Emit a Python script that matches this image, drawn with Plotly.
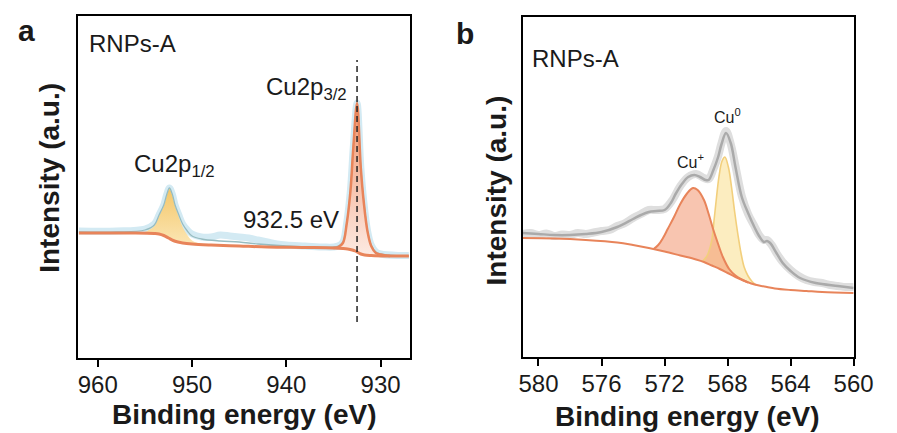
import plotly.graph_objects as go

# ---------------- Panel a : Cu 2p survey ----------------
be_a_raw = [962, 958, 955, 954, 953.5, 953, 952.7, 952.4, 952.1, 951.8, 951.4, 951, 950.5, 950,
            949, 948, 947, 946, 945, 944, 943, 942, 941, 940, 938, 936, 935, 934.5, 934, 933.6,
            933.2, 932.9, 932.5, 932.1, 931.8, 931.4, 931, 930.5, 930, 928, 927]
int_a_raw = [127, 127, 129, 134, 143, 153, 163, 170, 164, 153, 143, 134, 128, 124,
             121, 121, 123, 122, 121, 120, 118, 116, 114, 113, 112, 111, 111, 112, 116, 135,
             168, 211, 255, 191, 158, 128, 113, 106, 104, 102.5, 102.5]

be_a_fit = [962, 958, 955, 954, 953.5, 953, 952.7, 952.4, 952.1, 951.8, 951.4, 951, 950.5, 950,
            949, 947, 945, 943, 940, 937, 935, 934.5, 934, 933.6, 933.2, 932.9, 932.5, 932.1,
            931.8, 931.4, 931, 930.5, 930, 928, 927]
int_a_fit = [126, 126, 128, 133, 143, 153, 163, 170, 164, 153, 143, 134, 127, 122,
             119, 117, 116, 114, 112, 111, 111, 112, 116, 135, 168, 211, 255, 191,
             158, 128, 113, 106, 104, 102, 102]

be_a_bg = [962, 956, 954, 953.5, 953, 952.5, 952, 951.5, 951, 950, 948, 945, 942, 938, 935,
           934, 933.5, 933, 932.7, 932.4, 932.1, 931.7, 931, 929, 927]
int_a_bg = [125, 125, 124.5, 124, 122.5, 120, 117.5, 116, 115, 114, 113, 112, 111, 110.5, 110,
            109.5, 109, 108, 107, 105.5, 104, 103, 102.5, 102, 102]

be_a_p12 = [955.5, 955, 954, 953.5, 953, 952.7, 952.4, 952.1, 951.8, 951.4, 951, 950.5, 950, 949, 948]
int_a_p12 = [125, 126, 132, 142, 152, 162, 169, 163, 152, 141, 131, 123, 117.5, 114, 113]

be_a_p32 = [935, 934.5, 934, 933.6, 933.2, 932.9, 932.5, 932.1, 931.8, 931.4, 931, 930.5, 930, 929.5, 929]
int_a_p32 = [110, 111, 115, 134, 167, 210, 255, 190, 157, 127, 112, 105, 103.5, 102.5, 102]

dash_be = [932.5, 932.5]
dash_int = [36, 298]

ticks_a = [960, 950, 940, 930]

# ---------------- Panel b : Cu LMM Auger ----------------
be_b_raw = [581, 580.5, 580, 579.5, 579, 578.5, 578, 577.5, 577, 576.5, 576, 575.5, 575, 574.5,
            574, 573.5, 573, 572.5, 572, 571.5, 571, 570.5, 570, 569.5, 569.2, 568.9, 568.6,
            568.4, 568.1, 567.8, 567.5, 567.1, 566.7, 566.3, 566, 565.7, 565.5, 565.2, 564.9,
            564.5, 564, 563.5, 563, 562.5, 562, 561.5, 561, 560.5, 560]
int_b_raw = [123, 124, 122, 123.5, 121, 122.5, 122, 124, 123, 124.5, 126, 127, 131, 134,
             139, 143, 147, 147, 148, 157, 171, 180, 183, 179, 178, 188, 201,
             213, 226, 213, 191, 161, 143, 131, 122, 117, 117, 112, 104,
             95, 87, 81, 77, 75, 74, 72, 71, 70, 70]

be_b_fit = [581, 580, 579, 578, 577, 576, 575, 574, 573.5, 573, 572.5, 572, 571.6, 571.3, 570.9,
            570.5, 570.1, 569.75, 569.4, 569.2, 568.9, 568.6, 568.4, 568.1, 567.8, 567.5, 567.1,
            566.7, 566.3, 566, 565.7, 565.5, 565.3, 564.9, 564.5, 564, 563.4, 562.4, 561, 560]
int_b_fit = [124, 123, 122, 122, 123, 125, 130, 138, 142, 145, 146, 147, 154, 163, 173,
             180, 182, 180, 177, 177, 187, 200, 212, 224, 214, 190, 160,
             144, 130, 121, 115, 116, 114, 104, 94, 86, 79, 74, 71, 69]

be_b_bg = [581, 579, 577, 575, 574, 573, 572, 571, 570, 569.5, 569, 568.5, 568, 567.5, 567,
           566.5, 566, 565.5, 565, 564, 563, 562, 560]
int_b_bg = [119, 118.5, 117, 114.5, 112, 109, 105.5, 101.5, 97.5, 95, 91.5, 88, 84, 80, 76.5,
            73.5, 71.5, 70, 68.5, 67, 66, 65, 64]

be_b_cu1 = [572.7, 572.4, 572.1, 571.8, 571.4, 571.0, 570.6, 570.2, 569.9, 569.5, 569.2, 568.9,
            568.6, 568.3, 567.9, 567.5, 567.1, 566.7]
int_b_cu1 = [108, 112, 119, 128, 140, 153, 163, 169, 167, 157, 143, 127,
             113, 100, 88, 81.5, 77.5, 74.5]

be_b_cu0 = [569.6, 569.35, 569.2, 569.0, 568.85, 568.7, 568.55, 568.35, 568.17, 567.95, 567.75,
            567.55, 567.35, 567.15, 566.95, 566.7, 566.45, 566.2]
int_b_cu0 = [95.5, 100, 105, 117, 138, 160, 180, 196, 200, 190, 170,
             145, 123, 104, 90, 81, 75.5, 72]

ticks_b = [580, 576, 572, 568, 564, 560]

W, H = 897, 433
FONT = "Arial, Liberation Sans, sans-serif"
ORANGE = "#e8845a"


def P(x, y):
    return x / W, 1 - y / H


def polygon(cx, cy, bx, by):
    lo, hi = min(cx), max(cx)
    inner = [(x, y) for x, y in zip(bx, by) if lo < x < hi]
    inner.sort(key=lambda t: t[0], reverse=(cx[0] < cx[-1]))
    return list(cx) + [t[0] for t in inner], list(cy) + [t[1] for t in inner]


fig = go.Figure()

# ---- panel a traces
fig.add_trace(go.Scatter(x=be_a_raw, y=int_a_raw, mode="lines", line=dict(color="#d3eaf3", width=7, shape="spline"),
                         xaxis="x", yaxis="y", hoverinfo="skip"))
px_, py_ = polygon(be_a_p12, int_a_p12, be_a_bg, int_a_bg)
fig.add_trace(go.Scatter(x=px_, y=py_, mode="lines", fill="toself", line=dict(width=0, shape="spline"),
                         fillgradient=dict(type="vertical", colorscale=[[0, "#fbe6b4"], [1, "#f4c76a"]]),
                         xaxis="x", yaxis="y", hoverinfo="skip"))
px_, py_ = polygon(be_a_p32, int_a_p32, be_a_bg, int_a_bg)
fig.add_trace(go.Scatter(x=px_, y=py_, mode="lines", fill="toself", line=dict(width=0, shape="spline"),
                         fillgradient=dict(type="vertical", colorscale=[[0, "#fdeae2"], [1, "#ef956f"]]),
                         xaxis="x", yaxis="y", hoverinfo="skip"))
fig.add_trace(go.Scatter(x=be_a_fit, y=int_a_fit, mode="lines", line=dict(color="#97bcc0", width=1.3, shape="spline"),
                         xaxis="x", yaxis="y", hoverinfo="skip"))
fig.add_trace(go.Scatter(x=be_a_bg, y=int_a_bg, mode="lines", line=dict(color=ORANGE, width=3, shape="spline"),
                         xaxis="x", yaxis="y", hoverinfo="skip"))
fig.add_trace(go.Scatter(x=be_a_p32, y=int_a_p32, mode="lines", line=dict(color=ORANGE, width=2.5, shape="spline"),
                         xaxis="x", yaxis="y", hoverinfo="skip"))
fig.add_trace(go.Scatter(x=dash_be, y=dash_int, mode="lines", line=dict(color="#222222", width=1.5, dash="6px,4px"),
                         xaxis="x", yaxis="y", hoverinfo="skip"))

# ---- panel b traces
fig.add_trace(go.Scatter(x=be_b_raw, y=int_b_raw, mode="lines", line=dict(color="#dedede", width=8, shape="spline"),
                         xaxis="x2", yaxis="y2", hoverinfo="skip"))
fig.add_trace(go.Scatter(x=be_b_fit, y=int_b_fit, mode="lines", line=dict(color="#aaaaaa", width=2.5, shape="spline"),
                         xaxis="x2", yaxis="y2", hoverinfo="skip"))
px_, py_ = polygon(be_b_cu0, int_b_cu0, be_b_bg, int_b_bg)
fig.add_trace(go.Scatter(x=px_, y=py_, mode="lines", fill="toself", fillcolor="rgba(250,222,140,0.55)",
                         line=dict(width=0, shape="spline"), xaxis="x2", yaxis="y2", hoverinfo="skip"))
px_, py_ = polygon(be_b_cu1, int_b_cu1, be_b_bg, int_b_bg)
fig.add_trace(go.Scatter(x=px_, y=py_, mode="lines", fill="toself", fillcolor="rgba(242,150,112,0.55)",
                         line=dict(width=0, shape="spline"), xaxis="x2", yaxis="y2", hoverinfo="skip"))
fig.add_trace(go.Scatter(x=be_b_cu0, y=int_b_cu0, mode="lines", line=dict(color="#f2cf7c", width=1.6, shape="spline"),
                         xaxis="x2", yaxis="y2", hoverinfo="skip"))
fig.add_trace(go.Scatter(x=be_b_cu1, y=int_b_cu1, mode="lines", line=dict(color=ORANGE, width=2, shape="spline"),
                         xaxis="x2", yaxis="y2", hoverinfo="skip"))
fig.add_trace(go.Scatter(x=be_b_bg, y=int_b_bg, mode="lines", line=dict(color=ORANGE, width=2, shape="spline"),
                         xaxis="x2", yaxis="y2", hoverinfo="skip"))

axis_common = dict(showline=True, mirror=True, linecolor="black", linewidth=2, showgrid=False, zeroline=False)
xcommon = dict(axis_common, ticks="outside", ticklen=7, tickwidth=2, tickcolor="black", ticklabelstandoff=-3,
               tickfont=dict(family=FONT, size=24, color="#1a1a1a"))
ycommon = dict(axis_common, showticklabels=False, ticks="")

fig.update_layout(
    width=W, height=H, margin=dict(l=0, r=0, t=0, b=0),
    paper_bgcolor="white", plot_bgcolor="white", showlegend=False,
    xaxis=dict(xcommon, domain=[76 / W, 417 / W], range=[962.1, 926.9], tickvals=ticks_a, anchor="y"),
    yaxis=dict(ycommon, domain=[1 - 358 / H, 1 - 16 / H], range=[0, 342], anchor="x"),
    xaxis2=dict(xcommon, domain=[533 / W, 873 / W], range=[581, 560], tickvals=ticks_b, anchor="y2"),
    yaxis2=dict(ycommon, domain=[1 - 357 / H, 1 - 17 / H], range=[0, 340], anchor="x2"),
)

ann = []


def add(text, x, y, size, bold=False, xanchor="center", angle=0, color="#1a1a1a"):
    xx, yy = P(x, y)
    ann.append(dict(text=f"<b>{text}</b>" if bold else text, x=xx, y=yy, xref="paper", yref="paper",
                    xanchor=xanchor, yanchor="middle", showarrow=False, textangle=angle,
                    font=dict(family=FONT, size=size, color=color)))


add("a", 23, 30, 30, bold=True)
add("b", 474, 33, 30, bold=True)
add("RNPs-A", 85, 43, 24, xanchor="left")
add("RNPs-A", 540, 58, 24, xanchor="left")
add("Cu2p<sub>3/2</sub>", 267, 88, 24, xanchor="left")
add("Cu2p<sub>1/2</sub>", 132, 166, 24, xanchor="left")
add("932.5 eV", 244, 219, 24, xanchor="left")
add("Cu<sup>+</sup>", 689, 161, 16, xanchor="left")
add("Cu<sup>0</sup>", 727, 116, 16, xanchor="left")
add("Binding energy (eV)", 247, 414, 28, bold=True)
add("Binding energy (eV)", 702, 416, 28, bold=True)
add("Intensity (a.u.)", 46, 178, 28, bold=True, angle=-90)
add("Intensity (a.u.)", 506, 190, 28, bold=True, angle=-90)
fig.update_layout(annotations=ann)

fig.write_html("out.html")
